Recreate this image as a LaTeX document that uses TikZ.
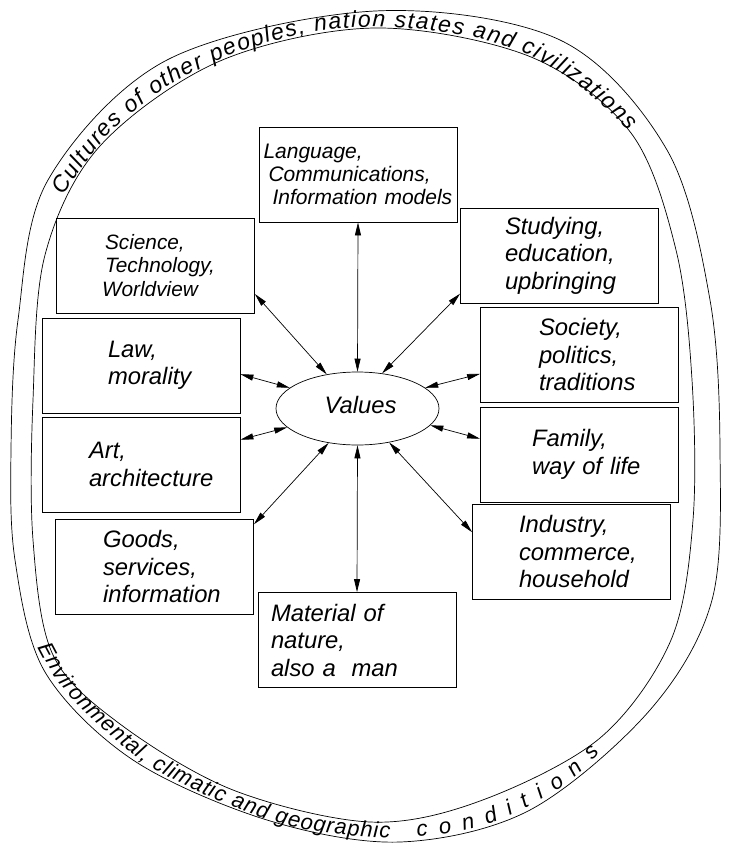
\documentclass[tikz,border=0pt]{standalone}
\usepackage{fontspec}
\setmainfont{Liberation Sans}
\usetikzlibrary{arrows.meta,decorations.text,shapes.geometric}
\begin{document}
\begin{tikzpicture}[x=1pt,y=-1pt,
  band/.style={line width=0.7pt},
  box/.style={draw, line width=0.8pt, minimum height=95pt, inner ysep=0pt, align=left,
    font=\itshape\fontsize{23.8}{27.5}\selectfont},
  arr/.style={{Triangle[length=13pt,width=6pt]}-{Triangle[length=13pt,width=6pt]}, line width=0.7pt},
  bandtext/.style={decorate, decoration={text along path, text align={fit to path}, text={#1}}}]
\useasboundingbox (0,0) rectangle (734,861);

% outer and inner curves of the band
\draw[band] plot[smooth cycle, tension=0.55] coordinates {
  (375,11) (560,40) (667,150) (710,300) (720,450) (712,600) (650,710) (530,810)
  (400,842) (267,820) (133,760) (45,672) (15,560) (11,450) (18,320) (48,180) (167,60)};
\draw[band] plot[smooth cycle, tension=0.55] coordinates {
  (375,28) (531,57) (631,133) (676,250) (692,380) (693,520) (671,640) (600,738)
  (480,801) (370,822) (233,790) (120,724) (53,655) (33,540) (33,400) (45,255) (100,146) (220,61)};

% texts along the band
\path[bandtext={|\itshape\fontsize{23}{23}\selectfont|Cultures of other peoples, nation states and civilizations}]
  (64,196) to[out=58,in=226] (117,126) to[out=42,in=203] (233,54) to[out=19,in=180] (375,27)
  to[out=-2,in=158] (531,56) to[out=-28,in=133] (628,131);
\path[bandtext={|\itshape\fontsize{22}{22}\selectfont|Environmental, climatic and geographic}]
  (38,647) to[out=-63,in=136] (86,713) to[out=-44,in=156] (201,793) to[out=-24,in=177] (370,837) -- (390,838);
\path[bandtext={|\itshape\fontsize{22}{22}\selectfont|conditions}]
  (417,836) to[out=4,in=208] (531,805) to[out=28,in=227] (600,753);

% boxes
\node[box, inner xsep=4.5pt, text width=189pt, font=\itshape\fontsize{21}{23}\selectfont] (lang) at (358,174.5)
  {\mbox{Language,}\\\hspace*{5pt}\mbox{Communications,}\\\hspace*{9pt}\mbox{Information models}};
\node[box, inner xsep=48.5pt, text width=101pt, font=\itshape\fontsize{20.8}{23.5}\selectfont] (sci) at (155.5,265.5)
  {\mbox{Science,}\\\mbox{Technology,}\\\hspace*{-3pt}\mbox{Worldview}};
\node[box, inner xsep=66pt, text width=66pt] (law) at (141,365.5) {\mbox{Law,}\\\mbox{morality}};
\node[box, inner xsep=47pt, text width=104pt] (art) at (141,464.5) {\mbox{Art,}\\\mbox{architecture}};
\node[box, inner xsep=47.5pt, text width=103pt] (goods) at (154.5,566.5) {\mbox{Goods,}\\\mbox{services,}\\\mbox{information}};
\node[box, inner xsep=13pt, text width=172pt] (mat) at (357,640) {\mbox{Material of}\\\mbox{nature,}\\\mbox{also a\ \ man}};
\node[box, inner xsep=44.5pt, text width=109pt] (stud) at (559.5,255.5) {\mbox{Studying,}\\\mbox{education,}\\\mbox{upbringing}};
\node[box, inner xsep=58.5pt, text width=81pt] (soc) at (579.5,354.5) {\mbox{Society,}\\\mbox{politics,}\\\mbox{traditions}};
\node[box, inner xsep=51.5pt, text width=95pt] (fam) at (579.5,454.5) {\mbox{Family,}\\\mbox{way of life}};
\node[box, inner xsep=46.5pt, text width=105pt] (ind) at (571.5,551.5) {\mbox{Industry,}\\\mbox{commerce,}\\\mbox{household}};

% central ellipse
\node[draw, ellipse, line width=0.7pt, minimum width=163pt, minimum height=73pt, inner sep=0pt,
  text depth=8pt, font=\itshape\fontsize{23.8}{27.5}\selectfont] (val) at (357.5,408.5) {\hspace*{6pt}Values};

% connectors
\draw[arr] (lang.south) -- (val.north);
\draw[arr] (val.south) -- (mat.north);
\draw[arr] (sci.-16) -- (val.132);
\draw[arr] (law.-5) -- (val.163);
\draw[arr] (art.14) -- (val.195);
\draw[arr] (goods.23) -- (val.230);
\draw[arr] (stud.201) -- (val.55);
\draw[arr] (soc.191) -- (val.17);
\draw[arr] (fam.171) -- (val.-13);
\draw[arr] (ind.169) -- (val.-47);
\end{tikzpicture}
\end{document}
